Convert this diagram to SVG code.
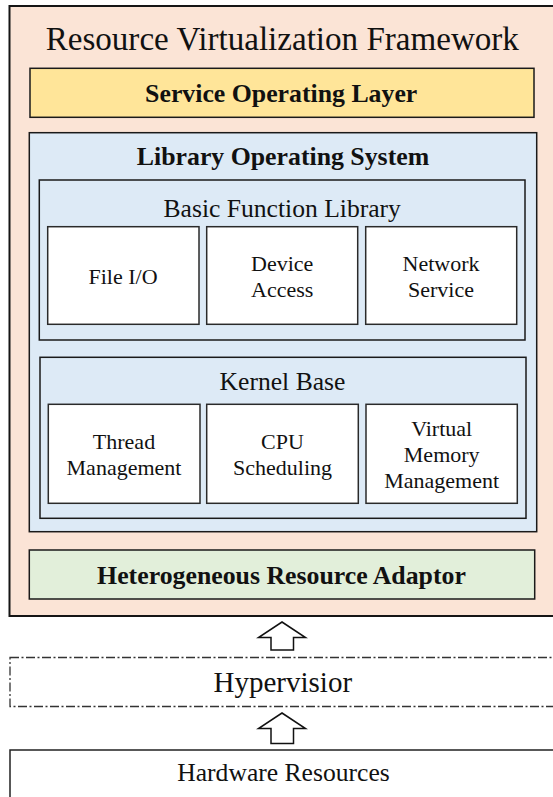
<svg xmlns="http://www.w3.org/2000/svg" width="553" height="797" viewBox="0 0 553 797">
  <style>
    text { font-family: "Liberation Serif", "Times New Roman", serif; fill: #111; text-anchor: middle; }
    .title { font-size: 33.1px; }
    .head { font-size: 25.8px; font-weight: bold; }
    .sub { font-size: 25.6px; }
    .item { font-size: 22px; }
    .frame { fill: #FBE4D6; stroke: #151515; stroke-width: 2; }
    .layer { stroke: #1a1a1a; stroke-width: 1.5; }
    .blue { fill: #DDEAF6; }
    .mod { fill: #FFFFFF; stroke: #2a2a2a; stroke-width: 1.5; }
    .dashbox { fill: #FFFFFF; stroke: #333; stroke-width: 1.3; stroke-dasharray: 9 2.5 2 2.5; }
    .hw { fill: #FFFFFF; stroke: #222; stroke-width: 1.5; }
    .arrow { fill: #FFFFFF; stroke: #111; stroke-width: 1.5; stroke-linejoin: miter; }
  </style>

  <!-- Resource virtualization framework container -->
  <g id="framework">
    <rect class="frame" x="9.5" y="6" width="552" height="610"/>
    <text class="title" x="282.3" y="50">Resource Virtualization Framework</text>
  </g>

  <g id="service-layer">
    <rect class="layer" x="30" y="68.3" width="504" height="49" fill="#FFE599"/>
    <text class="head" x="281.2" y="101.7">Service Operating Layer</text>
  </g>

  <g id="library-os">
    <rect class="layer blue" x="29.3" y="132.7" width="507.4" height="399"/>
    <text class="head" x="283" y="165">Library Operating System</text>
  </g>

  <g id="basic-function-library">
    <rect class="layer blue" x="39.3" y="180" width="485.7" height="160"/>
    <text class="sub" x="282.2" y="217.3">Basic Function Library</text>
  </g>

  <g id="file-io">
    <rect class="mod" x="47.7" y="226.7" width="151.3" height="97.6"/>
    <text class="item" x="123" y="284">File I/O</text>
  </g>

  <g id="device-access">
    <rect class="mod" x="206.7" y="226.7" width="151" height="97.6"/>
    <text class="item" x="282.2" y="270.7">Device</text>
    <text class="item" x="282.2" y="296.7">Access</text>
  </g>

  <g id="network-service">
    <rect class="mod" x="365.7" y="226.7" width="151" height="97.6"/>
    <text class="item" x="441" y="270.7">Network</text>
    <text class="item" x="441" y="296.7">Service</text>
  </g>

  <g id="kernel-base">
    <rect class="layer blue" x="40" y="357.3" width="486" height="161"/>
    <text class="sub" x="282.5" y="390">Kernel Base</text>
  </g>

  <g id="thread-management">
    <rect class="mod" x="48.3" y="404.3" width="151.7" height="99"/>
    <text class="item" x="124" y="449.3">Thread</text>
    <text class="item" x="124" y="475">Management</text>
  </g>

  <g id="cpu-scheduling">
    <rect class="mod" x="206.7" y="404.3" width="151.6" height="99"/>
    <text class="item" x="282.5" y="449.3">CPU</text>
    <text class="item" x="282.5" y="475">Scheduling</text>
  </g>

  <g id="virtual-memory">
    <rect class="mod" x="366" y="404.3" width="151.3" height="99"/>
    <text class="item" x="441.7" y="436">Virtual</text>
    <text class="item" x="441.7" y="461.7">Memory</text>
    <text class="item" x="441.7" y="487.7">Management</text>
  </g>

  <g id="resource-adaptor">
    <rect class="layer" x="29.3" y="550" width="505.4" height="49" fill="#E2EFDA"/>
    <text class="head" x="281.5" y="584">Heterogeneous Resource Adaptor</text>
  </g>

  <g id="hypervisor">
    <rect class="dashbox" x="10" y="657.5" width="560" height="49"/>
    <text style="font-size:29px" x="282.8" y="691.7">Hypervisior</text>
  </g>

  <g id="hardware">
    <rect class="hw" x="10" y="750" width="560" height="60"/>
    <text class="sub" x="283.5" y="780.7">Hardware Resources</text>
  </g>

  <!-- Hollow up-arrows between the stacked layers -->
  <g id="connectors">
    <polygon class="arrow" points="282,622 305.5,637.5 293.5,637.5 293.5,650 271,650 271,637.5 258.5,637.5"/>
    <polygon class="arrow" points="282,713 305.5,728.5 293.5,728.5 293.5,743.5 271,743.5 271,728.5 258.5,728.5"/>
  </g>
</svg>
